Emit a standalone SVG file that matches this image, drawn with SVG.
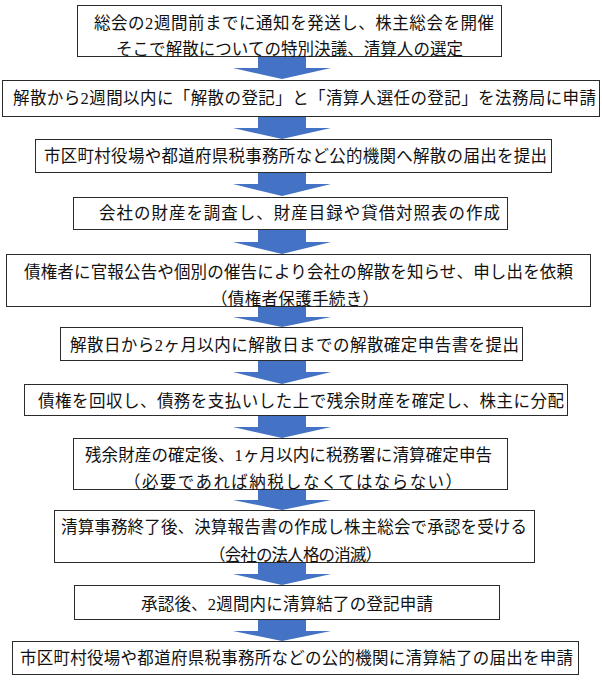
<svg xmlns="http://www.w3.org/2000/svg" width="602" height="687" viewBox="0 0 602 687">
<style>
.box{fill:#fff;stroke:#2b2b2b;stroke-width:1}
.t{font-family:"Liberation Serif","Noto Sans CJK JP",serif;font-size:16.5px;fill:#111;text-anchor:middle;dominant-baseline:central}
.arr{fill:#4472C4}
</style>
<rect width="602" height="687" fill="#fff"/>
<g id="connectors">
<polygon class="arr" points="258,57 306,57 306,68 331,68 282,79 233,68 258,68"/>
<polygon class="arr" points="258,117 306,117 306,128 331,128 282,139 233,128 258,128"/>
<polygon class="arr" points="258,173 306,173 306,184 331,184 282,196 233,184 258,184"/>
<polygon class="arr" points="258,230 306,230 306,242 331,242 282,254 233,242 258,242"/>
<polygon class="arr" points="258,307 306,307 306,317 331,317 282,327 233,317 258,317"/>
<polygon class="arr" points="258,361 306,361 306,372 331,372 282,384 233,372 258,372"/>
<polygon class="arr" points="258,416 306,416 306,427 331,427 282,438 233,427 258,427"/>
<polygon class="arr" points="258,490 306,490 306,500 331,500 282,510 233,500 258,500"/>
<polygon class="arr" points="258,563 306,563 306,574 331,574 282,585 233,574 258,574"/>
<polygon class="arr" points="258,620 306,620 306,631 331,631 282,641 233,631 258,631"/>
</g>
<g id="node1">
<rect class="box" x="77.5" y="5.5" width="424" height="51"/>
<text class="t" x="294" y="23" textLength="400">総会の2週間前までに通知を発送し、株主総会を開催</text>
<text class="t" x="289.5" y="49" textLength="347">そこで解散についての特別決議、清算人の選定</text>
</g>
<g id="node2">
<rect class="box" x="2.5" y="80.5" width="597" height="36"/>
<text class="t" x="304.5" y="98" textLength="583">解散から2週間以内に「解散の登記」と「清算人選任の登記」を法務局に申請</text>
</g>
<g id="node3">
<rect class="box" x="35.5" y="139.5" width="516" height="33"/>
<text class="t" x="295.5" y="156" textLength="503">市区町村役場や都道府県税事務所など公的機関へ解散の届出を提出</text>
</g>
<g id="node4">
<rect class="box" x="73.5" y="197.5" width="434" height="32"/>
<text class="t" x="299.5" y="213" textLength="401">会社の財産を調査し、財産目録や貸借対照表の作成</text>
</g>
<g id="node5">
<rect class="box" x="6.5" y="254.5" width="584" height="52"/>
<text class="t" x="298.5" y="272" textLength="549">債権者に官報公告や個別の催告により会社の解散を知らせ、申し出を依頼</text>
<text class="t" x="295" y="299" textLength="168">（債権者保護手続き）</text>
</g>
<g id="node6">
<rect class="box" x="60.5" y="327.5" width="462" height="33"/>
<text class="t" x="294.5" y="345" textLength="449">解散日から2ヶ月以内に解散日までの解散確定申告書を提出</text>
</g>
<g id="node7">
<rect class="box" x="24.5" y="384.5" width="543" height="31"/>
<text class="t" x="301" y="401" textLength="526">債権を回収し、債務を支払いした上で残余財産を確定し、株主に分配</text>
</g>
<g id="node8">
<rect class="box" x="73.5" y="438.5" width="434" height="51"/>
<text class="t" x="288.5" y="455" textLength="407">残余財産の確定後、1ヶ月以内に税務署に清算確定申告</text>
<text class="t" x="293" y="482" textLength="338">（必要であれば納税しなくてはならない）</text>
</g>
<g id="node9">
<rect class="box" x="54.5" y="510.5" width="480" height="52"/>
<text class="t" x="294" y="527" textLength="466">清算事務終了後、決算報告書の作成し株主総会で承認を受ける</text>
<text class="t" x="295.5" y="555" textLength="173">（会社の法人格の消滅）</text>
</g>
<g id="node10">
<rect class="box" x="74.5" y="585.5" width="425" height="34"/>
<text class="t" x="287" y="604" textLength="292">承認後、2週間内に清算結了の登記申請</text>
</g>
<g id="node11">
<rect class="box" x="12.5" y="641.5" width="566" height="33"/>
<text class="t" x="296.5" y="658" textLength="553">市区町村役場や都道府県税事務所などの公的機関に清算結了の届出を申請</text>
</g>
</svg>
